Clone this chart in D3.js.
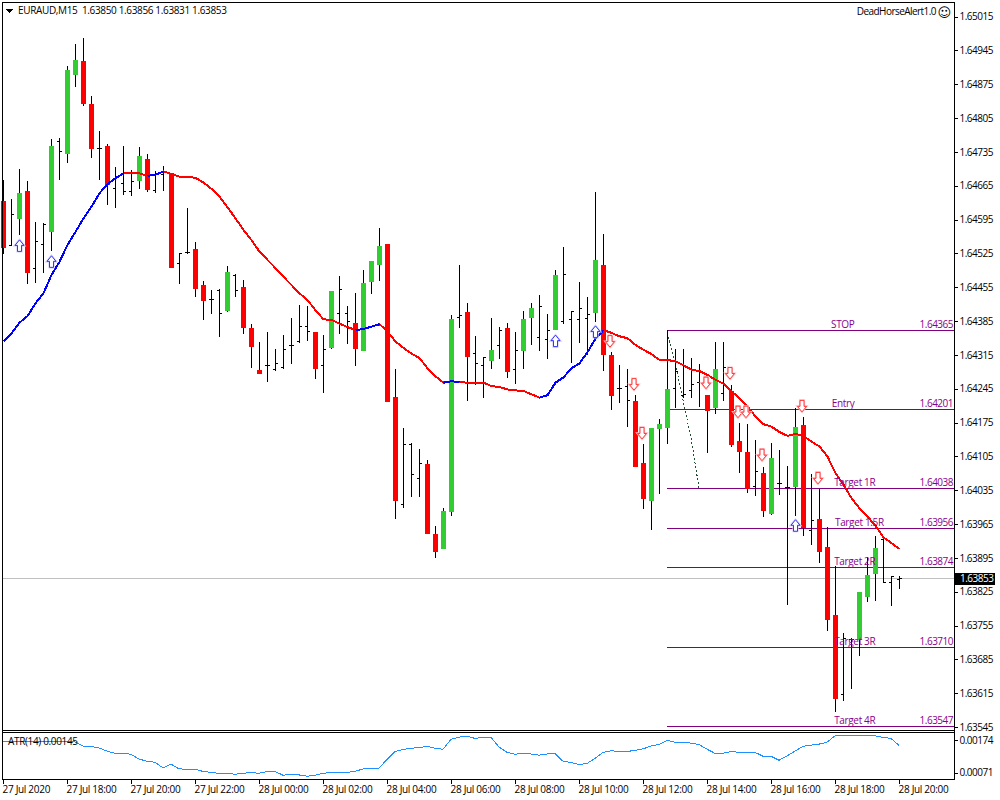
<!DOCTYPE html>
<html><head><meta charset="utf-8">
<script src="https://cdn.jsdelivr.net/npm/d3@7"></script>
<style>
html,body{margin:0;padding:0;background:#fff}
svg{display:block}
text{font-family:"Open Sans",Tahoma,sans-serif;font-size:10px;letter-spacing:-0.35px}
</style></head><body><div id="c"></div>
<script>
const barKinds=("rbgrbbgbgg"+"rrbrbbbgrb"+"brbbrrbbgb"+"rrrbbbbbbr"+"bgbbrgggrr"+"bbbrrggbrb"+"bgbrbggbbg"+"bbbbgrrbbr"+"rgggbbbbrg"+"brrrbrgbbg"+"rbrrrbbggg"+"bbb").split("");
const opens=[1.64632,1.64541,1.64597,1.64653,1.64493,1.64544,1.64570,1.64756,1.64731,1.64895,1.64922,1.64833,1.64741,1.64746,1.64660,1.64670,1.64653,1.64675,1.64719,1.64654,1.64688,1.64690,1.64504,1.64527,1.64533,1.64458,1.64429,1.64448,1.64406,1.64479,1.64454,1.64369,1.64282,1.64292,1.64284,1.64288,1.64334,1.64342,1.64374,1.64361,1.64292,1.64330,
1.64400,1.64400,1.64380,1.64324,1.64467,1.64502,1.64543,1.64227,1.64005,1.64129,1.64060,1.64088,1.63943,1.63914,1.63991,1.64392,1.64403,1.64318,1.64293,1.64303,1.64334,1.64370,1.64285,1.64324,1.64392,1.64350,1.64347,1.64367,1.64383,1.64388,1.64388,1.64390,1.64403,1.64500,1.64314,1.64245,1.64250,1.64218,
1.64090,1.64014,1.64163,1.64165,1.64245,1.64231,1.64241,1.64258,1.64231,1.64206,1.64235,1.64239,1.64136,1.64113,1.64043,1.64070,1.63987,1.64049,1.64041,1.64043,1.64169,1.63952,1.63974,1.63916,1.63776,1.63612,1.63726,1.63726,1.63815,1.63863,1.63933,1.63843,1.63850];
const highs=[1.64675,1.64636,1.64698,1.64673,1.64588,1.64586,1.64760,1.64762,1.64911,1.64957,1.64969,1.64849,1.64777,1.64750,1.64702,1.64746,1.64696,1.64744,1.64729,1.64694,1.64704,1.64691,1.64524,1.64617,1.64547,1.64466,1.64448,1.64450,1.64497,1.64481,1.64468,1.64377,1.64340,1.64361,1.64325,1.64354,1.64390,1.64417,1.64415,1.64361,1.64354,1.64446,
1.64477,1.64415,1.64442,1.64490,1.64509,1.64577,1.64543,1.64285,1.64163,1.64132,1.64119,1.64096,1.63960,1.63997,1.64396,1.64500,1.64421,1.64353,1.64310,1.64390,1.64372,1.64380,1.64361,1.64405,1.64421,1.64438,1.64399,1.64490,1.64537,1.64405,1.64465,1.64434,1.64651,1.64564,1.64320,1.64293,1.64285,1.64231,
1.64130,1.64163,1.64181,1.64366,1.64325,1.64326,1.64307,1.64295,1.64231,1.64341,1.64341,1.64252,1.64173,1.64171,1.64138,1.64082,1.64132,1.64117,1.64084,1.64204,1.64185,1.64067,1.64036,1.63957,1.63877,1.63738,1.63728,1.63823,1.63896,1.63939,1.63935,1.63856,1.63856];
const lows=[1.64524,1.64541,1.64564,1.64462,1.64464,1.64485,1.64530,1.64677,1.64713,1.64870,1.64831,1.64723,1.64677,1.64626,1.64619,1.64646,1.64644,1.64659,1.64653,1.64650,1.64655,1.64495,1.64462,1.64524,1.64435,1.64388,1.64400,1.64352,1.64404,1.64435,1.64359,1.64288,1.64276,1.64259,1.64282,1.64286,1.64297,1.64340,1.64344,1.64266,1.64237,1.64328,
1.64359,1.64339,1.64293,1.64324,1.64442,1.64469,1.64218,1.63976,1.63999,1.64022,1.64022,1.63945,1.63896,1.63914,1.63982,1.64372,1.64221,1.64254,1.64227,1.64287,1.64307,1.64268,1.64256,1.64287,1.64336,1.64324,1.64307,1.64367,1.64380,1.64299,1.64341,1.64316,1.64384,1.64283,1.64202,1.64216,1.64167,1.64084,
1.63997,1.63954,1.64028,1.64132,1.64206,1.64227,1.64227,1.64208,1.64113,1.64194,1.64221,1.64125,1.64072,1.64030,1.64024,1.63981,1.63985,1.64026,1.63798,1.63983,1.63941,1.63923,1.63885,1.63745,1.63577,1.63600,1.63624,1.63693,1.63805,1.63807,1.63843,1.63796,1.63831];
const closes=[1.64537,1.64606,1.64648,1.64485,1.64550,1.64584,1.64746,1.64735,1.64903,1.64924,1.64835,1.64742,1.64741,1.64667,1.64681,1.64653,1.64673,1.64725,1.64657,1.64690,1.64695,1.64495,1.64524,1.64527,1.64452,1.64427,1.64429,1.64401,1.64485,1.64448,1.64371,1.64332,1.64276,1.64292,1.64298,1.64325,1.64334,1.64374,1.64363,1.64286,1.64325,1.64446,
1.64450,1.64385,1.64328,1.64463,1.64508,1.64539,1.64218,1.64014,1.64129,1.64067,1.64091,1.63945,1.63908,1.63991,1.64388,1.64396,1.64312,1.64297,1.64310,1.64324,1.64365,1.64281,1.64324,1.64388,1.64411,1.64415,1.64365,1.64479,1.64481,1.64405,1.64410,1.64399,1.64510,1.64316,1.64231,1.64245,1.64221,1.64084,
1.64018,1.64163,1.64171,1.64243,1.64281,1.64233,1.64254,1.64281,1.64200,1.64285,1.64288,1.64130,1.64115,1.64038,1.64073,1.63993,1.64101,1.64049,1.64041,1.64165,1.63958,1.63972,1.63908,1.63767,1.63604,1.63729,1.63726,1.63823,1.63858,1.63914,1.63843,1.63856,1.63853];
const maValues=[1.64344,1.64360,1.64382,1.64396,1.64422,1.64443,1.64481,1.64508,1.64543,1.64570,1.64598,1.64622,1.64650,1.64669,1.64681,1.64691,1.64691,1.64691,1.64686,1.64688,1.64695,1.64690,1.64684,1.64684,1.64682,1.64672,1.64659,1.64643,1.64621,1.64598,1.64574,1.64553,1.64529,1.64512,1.64495,1.64477,1.64460,1.64443,1.64429,1.64408,1.64389,1.64388,
1.64380,1.64373,1.64367,1.64369,1.64374,1.64379,1.64364,1.64343,1.64330,1.64318,1.64309,1.64288,1.64271,1.64258,1.64261,1.64259,1.64258,1.64258,1.64258,1.64251,1.64249,1.64244,1.64242,1.64241,1.64234,1.64227,1.64232,1.64258,1.64269,1.64288,1.64298,1.64321,1.64349,1.64367,1.64361,1.64354,1.64350,1.64336,
1.64326,1.64317,1.64305,1.64305,1.64302,1.64294,1.64285,1.64282,1.64274,1.64264,1.64256,1.64240,1.64226,1.64209,1.64188,1.64172,1.64167,1.64156,1.64148,1.64152,1.64148,1.64136,1.64126,1.64105,1.64071,1.64047,1.64019,1.63998,1.63981,1.63962,1.63938,1.63926,1.63914];
const maBlueRanges=[[0,15],[18,20],[44,47],[55,57],[67,75]];
const atrValues=[170,170,170,170,170,170,170,170,170,168,155,154,149,139,132,132,129,114,107,104,86,98,83,82,82,75,72,69,69,66,69,72,69,75,75,63,66,64,60,63,69,72,72,72,75,83,85,85,113,138,144,148,150,154,148,145,176,183,186,179,182,182,152,135,129,132,130,126,130,132,107,103,97,100,116,135,140,138,138,141,146,155,160,173,167,167,164,160,145,132,132,138,135,135,135,123,123,110,124,139,154,158,161,167,187,187,187,187,187,187,182,179,157].map(v=>v/1e5);
const upArrowBars=[2,6,69,74,99];
const upArrowPrices=[1.64541,1.64508,1.64344,1.64363,1.63962];
const downArrowBars=[76,79,80,88,91,92,93,95,100,102];
const downArrowPrices=[1.64344,1.64255,1.64154,1.64258,1.64278,1.64198,1.64198,1.64109,1.64210,1.64061];
const zigzagBars=[83,84,85,86,87];
const zigzagPrices=[1.64361,1.64301,1.64222,1.64144,1.64040];
const levelNames=["STOP","Entry","Target 1R","Target 1.5R","Target 2R","Target 3R","Target 4R"];
const levelPrices=[1.64365,1.64201,1.64038,1.63956,1.63874,1.63710,1.63547];
const levelNameBars=[103.5,103.6,103.9,104,103.9,103.9,103.9];
const priceTicks=[1.65015,1.64945,1.64875,1.64805,1.64735,1.64665,1.64595,1.64525,1.64455,1.64385,1.64315,1.64245,1.64175,1.64105,1.64035,1.63965,1.63895,1.63825,1.63755,1.63685,1.63615,1.63545];
const atrTicks=[0.00174,0.00071];
const timeTickBars=[0,8,16,24,32,40,48,56,64,72,80,88,96,104,112];
const timeTickLabels=["27 Jul 2020","27 Jul 18:00","27 Jul 20:00","27 Jul 22:00","28 Jul 00:00","28 Jul 02:00","28 Jul 04:00","28 Jul 06:00","28 Jul 08:00","28 Jul 10:00","28 Jul 12:00","28 Jul 14:00","28 Jul 16:00","28 Jul 18:00","28 Jul 20:00"];
const lastPrice=1.63853;
const headerText="EURAUD,M15  1.63850 1.63856 1.63831 1.63853";
const atrText="ATR(14) 0.00145";
const expertText="DeadHorseAlert1.0";

const W=1000,H=800,L=3,R=954;
const x=d3.scaleLinear().domain([0,112]).range([3,899]);
const y=d3.scaleLinear().domain([1.65015,1.63545]).range([16,726.5]);
const ya=d3.scaleLinear().domain([0.00174,0.00071]).range([740,772.7]);
const py=v=>Math.round(y(v));
const ly=v=>y(v)+0.8;
const svg=d3.select("#c").append("svg").attr("width",W).attr("height",H).attr("viewBox",[0,0,W,H]).attr("shape-rendering","crispEdges");
svg.append("rect").attr("width",W).attr("height",H).attr("fill","#fff");
const PURPLE="#800080",TXT="#8b008b";

// current price line
svg.append("line").attr("x1",L).attr("x2",R).attr("y1",py(lastPrice)+.5).attr("y2",py(lastPrice)+.5).attr("stroke","#c0c0c0");

// level lines
svg.append("g").selectAll("line").data(levelPrices).join("line").attr("x1",x(83)).attr("x2",R).attr("y1",d=>py(d)+.5).attr("y2",d=>py(d)+.5).attr("stroke",PURPLE);

// zigzag
svg.append("path").attr("fill","none").attr("stroke","#1f4f2f").attr("stroke-dasharray","2,2")
  .attr("d",d3.line().x(d=>x(d)).y((d,i)=>ly(zigzagPrices[i]))(zigzagBars));

// candles
const idx=d3.range(opens.length);
const kindOf=i=>barKinds[i];
const c=svg.append("g").selectAll("g").data(idx).join("g");
c.append("line").attr("x1",i=>x(i)+.5).attr("x2",i=>x(i)+.5).attr("y1",i=>py(highs[i])).attr("y2",i=>py(lows[i])+1).attr("stroke","#000");
const col=v=>v==="g"?"#32cd32":"#ff0000";
c.filter(i=>kindOf(i)!=="b").append("rect").attr("x",i=>x(i)-2).attr("width",5)
  .attr("y",i=>Math.min(py(opens[i]),py(closes[i]))).attr("height",i=>Math.max(2,Math.abs(py(opens[i])-py(closes[i]))+1))
  .attr("fill",i=>col(kindOf(i)));
const b=c.filter(i=>kindOf(i)==="b");
b.append("line").attr("x1",i=>x(i)-2).attr("x2",i=>x(i)+.5).attr("y1",i=>py(opens[i])+.5).attr("y2",i=>py(opens[i])+.5).attr("stroke","#000");
b.append("line").attr("x1",i=>x(i)+.5).attr("x2",i=>x(i)+3).attr("y1",i=>py(closes[i])+.5).attr("y2",i=>py(closes[i])+.5).attr("stroke","#000");

// moving average
const maLine=d3.line().x(d=>x(d)+.5).y(d=>ly(maValues[d]));
svg.append("path").attr("fill","none").attr("stroke","#ff0000").attr("stroke-width",2).attr("d",maLine(d3.range(15,113)));
maBlueRanges.forEach(r=>svg.append("path").attr("fill","none").attr("stroke","#0000ff").attr("stroke-width",2).attr("d",maLine(d3.range(r[0],r[1]+1))));

// level labels on top of the candles
const lv=svg.append("g").selectAll("g").data(levelNames).join("g");
lv.append("text").attr("x",(d,i)=>x(levelNameBars[i])).attr("y",(d,i)=>py(levelPrices[i])-2).attr("fill",TXT).text(d=>d);
lv.append("text").attr("x",953).attr("y",(d,i)=>py(levelPrices[i])-2).attr("text-anchor","end").attr("fill",TXT).style("letter-spacing","-0.5px").text((d,i)=>levelPrices[i].toFixed(5));

// arrows
const upShape="M0,-6L4.5,-0.5L2,-0.5L2,5.5L-2,5.5L-2,-0.5L-4.5,-0.5Z", downShape="M0,6L4.5,0.5L2,0.5L2,-5.5L-2,-5.5L-2,0.5L-4.5,0.5Z";
function arrows(bars,prices,shape,halo,ink,dx){
  const g=svg.append("g").attr("shape-rendering","auto").selectAll("g").data(bars).join("g")
    .attr("transform",(d,i)=>`translate(${x(d)+dx},${ly(prices[i])})`);
  g.append("path").attr("d",shape).attr("fill","#fff").attr("stroke",halo).attr("stroke-width",2.2);
  g.append("path").attr("d",shape).attr("fill","#fff").attr("stroke",ink).attr("stroke-width",.9);
}
arrows(upArrowBars,upArrowPrices,upShape,"#d0d0ff","#2020ff",.5);
arrows(downArrowBars,downArrowPrices,downShape,"#ffc0c8","#ff2828",-1);

// frame
const frame=svg.append("g").attr("stroke","#000").attr("fill","none");
frame.append("path").attr("d",`M2.5,780V2.5H${R+.5}V780`);
frame.append("path").attr("d",`M2.5,730.5H${R+.5}M2.5,732.5H${R+.5}M2.5,779.5H${R+.5}`);

// axes
const axP=d3.axisRight(y).tickValues(priceTicks).tickFormat(d3.format(".5f")).tickSize(3).tickPadding(2);
const gP=svg.append("g").attr("transform",`translate(${R+.5},0.5)`).call(axP);
const axA=d3.axisRight(ya).tickValues(atrTicks).tickFormat(d3.format(".5f")).tickSize(3).tickPadding(2);
const gA=svg.append("g").attr("transform",`translate(${R+.5},0)`).call(axA);
const axT=d3.axisBottom(x).tickValues(timeTickBars).tickFormat((d,i)=>timeTickLabels[i]).tickSize(4).tickPadding(2);
const gT=svg.append("g").attr("transform",`translate(0,779.5)`).call(axT);
[gP,gA,gT].forEach(g=>{g.select(".domain").remove();g.attr("font-family",null).attr("font-size",null);g.selectAll("line").attr("stroke","#000");g.selectAll("text").attr("fill","#000");});
[gP,gA].forEach(g=>g.selectAll("text").style("letter-spacing","-0.5px"));
gT.selectAll("text").attr("text-anchor","start").attr("dx",-1).style("letter-spacing","-0.3px");

// ATR
svg.append("path").attr("fill","none").attr("stroke","#1e90ff").attr("d",d3.line().x((d,i)=>x(i)).y(d=>ya(d))(atrValues));
svg.append("text").attr("x",8).attr("y",745).attr("fill","#000").text(atrText);

// last price tag
svg.append("rect").attr("x",955).attr("y",py(lastPrice)-5).attr("width",40).attr("height",12).attr("fill","#000");
svg.append("text").attr("x",960).attr("y",py(lastPrice)+4).attr("fill","#fff").style("letter-spacing","-0.5px").text(lastPrice.toFixed(5));

// headers
svg.append("path").attr("d","M6,9h7l-3.5,4z").attr("fill","#000");
svg.append("text").attr("x",18).attr("y",14).attr("fill","#000").attr("xml:space","preserve").style("white-space","pre").text(headerText);
svg.append("text").attr("x",936).attr("y",15).attr("text-anchor","end").attr("fill","#000").style("letter-spacing","-0.55px").text(expertText);
svg.append("text").attr("x",937.5).attr("y",16.5).attr("fill","#000").style("font-family","DejaVu Sans").style("font-size","13px").text("\u263A");
</script></body></html>
